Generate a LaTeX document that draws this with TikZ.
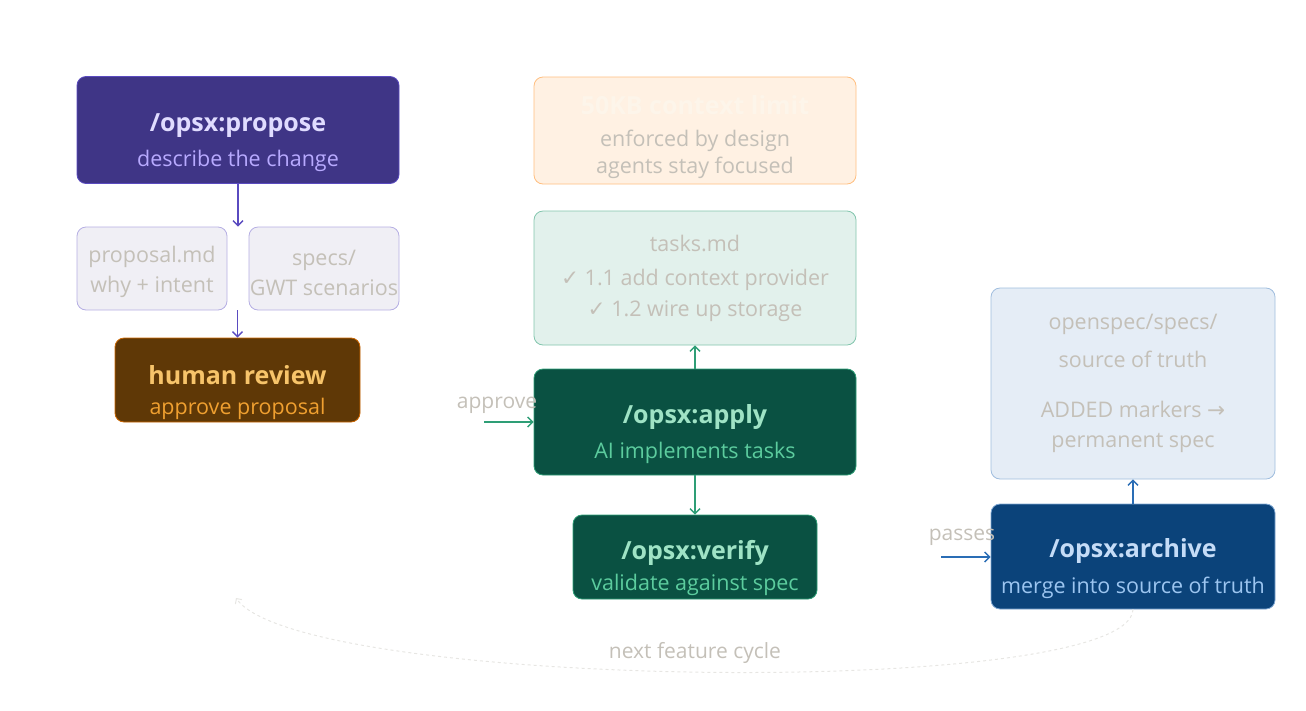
\documentclass[tikz,border=0pt]{standalone}
\usepackage{fontspec}
\setmainfont{Open Sans}
\newfontfamily\symf{DejaVu Sans}
\usetikzlibrary{positioning,arrows.meta}
\definecolor{gtxt}{HTML}{C4C0B8}
\definecolor{purp}{HTML}{3F3586}
\definecolor{purpl}{HTML}{5A4BC0}
\definecolor{brwn}{HTML}{5F3806}
\definecolor{dgrn}{HTML}{0A5142}
\definecolor{mgrn}{HTML}{2E9E76}
\definecolor{dblu}{HTML}{0B437A}
\definecolor{mblu}{HTML}{2A6DB5}
\newcommand\ttlf{\fontsize{25}{27}\selectfont\bfseries}
\newcommand\chk{{\symf ✓}}
\newcommand\lift[1]{\rule{0pt}{#1pt}}
\begin{document}
\begin{tikzpicture}[x=1pt,y=-1pt,
box/.style = {rounded corners=9pt, draw, line width=0.8pt, align=center, inner sep=0pt,
              font=\fontsize{21.5}{27}\selectfont},
lbl/.style = {text=gtxt, font=\fontsize{21}{24}\selectfont},
line/.style = {draw, line width=1.4pt, -{Straight Barb[length=5pt,width=10pt]}}]
\useasboundingbox (0,0) rectangle (1306,710);

% left column
\node [box, fill=purp, draw=purpl, minimum width=322pt, minimum height=107pt] (propose) at (238,130)
  {{\ttlf\lift{44}\color[HTML]{E0DCFF}/opsx:propose}\\[8pt]\color[HTML]{B8AAFF}describe the change};
\node [box, fill=purp!8, draw=purpl!45, minimum width=150pt, minimum height=83pt, text=gtxt] (proposal) at (152,268.5)
  {\lift{24}proposal.md\\[3pt]why + intent};
\node [box, fill=purp!8, draw=purpl!45, minimum width=150pt, minimum height=83pt, text=gtxt] (specs) at (324,268.5)
  {\lift{24}specs/\\[3pt]GWT scenarios};
\node [box, fill=brwn, draw=orange!80!black, minimum width=245pt, minimum height=84pt] (review) at (237.5,380)
  {{\ttlf\lift{44}\color[HTML]{F7C46A}human review}\\[3pt]\color[HTML]{F0A030}approve proposal};

% middle column
\node [box, fill=orange!11, draw=orange!50, minimum width=322pt, minimum height=107pt, text=gtxt] (limit) at (695,130.5)
  {{\ttlf\lift{32}\color[HTML]{FDF5EA}50KB context limit}\\[5pt]enforced by design\\agents stay focused};
\node [box, fill=mgrn!14, draw=mgrn!60, minimum width=322pt, minimum height=134pt, text=gtxt] (tasks) at (695,278)
  {tasks.md\\[7pt]\chk\ 1.1 add context provider\\[4pt]\chk\ 1.2 wire up storage};
\node [box, fill=dgrn, draw=mgrn, minimum width=322pt, minimum height=106pt] (apply) at (695,422)
  {{\ttlf\lift{44}\color[HTML]{9FE3C5}/opsx:apply}\\[8pt]\color[HTML]{5CCC9E}AI implements tasks};
\node [box, fill=dgrn, draw=mgrn, minimum width=244pt, minimum height=84pt] (verify) at (695,557)
  {{\ttlf\lift{42}\color[HTML]{9FE3C5}/opsx:verify}\\[4pt]\color[HTML]{5CCC9E}validate against spec};

% right column
\node [box, fill=mblu!12, draw=mblu!45, minimum width=284pt, minimum height=191pt, text=gtxt] (truth) at (1133,383.5)
  {openspec/specs/\\[11pt]source of truth\\[23pt]ADDED markers {\symf →}\\[3pt]permanent spec};
\node [box, fill=dblu, draw=mblu!60, minimum width=284pt, minimum height=105pt] (archive) at (1133,556.5)
  {{\ttlf\lift{44}\color[HTML]{C5DCF7}/opsx:archive}\\[9pt]\color[HTML]{9CC5F0}merge into source of truth};

\coordinate (approvein) at (484,422);
\coordinate (passesin) at (941,557);
\coordinate (cycleend) at (236,598);

\path [line, purpl] (propose.south) -- (propose.south |- proposal.north);
\path [line, purpl] (review.north |- proposal.south) -- (review.north);
\path [line, mgrn] (apply) -- (tasks);
\path [line, mgrn] (apply) -- (verify);
\path [line, mblu] (archive) -- (truth);
\node [lbl] at (497,405) {approve};
\path [line, mgrn] (approvein) -- (apply.west |- approvein);
\node [lbl] at (962,537) {passes};
\path [line, mblu] (passesin) -- (archive.west |- passesin);

\draw [gtxt!40, line width=1pt, dashed, -{Straight Barb[length=4pt,width=8pt]}]
  (archive.south) .. controls (1130,700) and (300,690) .. (cycleend);
\node [lbl] (cycle) at (695,653) {next feature cycle};
\end{tikzpicture}
\end{document}
